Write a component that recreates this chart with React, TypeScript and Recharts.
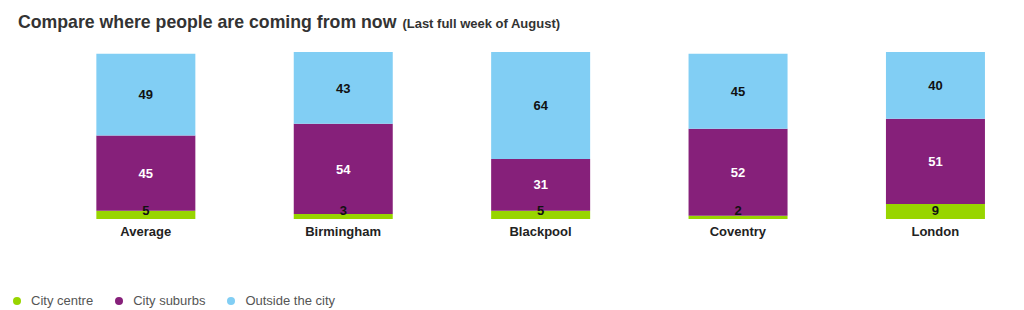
import { BarChart, Bar, XAxis, YAxis, LabelList } from 'recharts'

const cities = ['Average', 'Birmingham', 'Blackpool', 'Coventry', 'London']
const cityCentre = [5, 3, 5, 2, 9]
const citySuburbs = [45, 54, 31, 52, 51]
const outsideCity = [49, 43, 64, 45, 40]

const series = [
  { key: 'centre', name: 'City centre', color: '#98d500', values: cityCentre },
  { key: 'suburbs', name: 'City suburbs', color: '#86207a', values: citySuburbs },
  { key: 'outside', name: 'Outside the city', color: '#81cef4', values: outsideCity },
]

const data = cities.map((city, i) => ({
  city,
  centre: cityCentre[i],
  suburbs: citySuburbs[i],
  outside: outsideCity[i],
}))

const font = 'Arial, "Liberation Sans", Helvetica, sans-serif'

// small green segments: keep the number sitting just above the bottom
function CentreLabel(props: any) {
  const { x, y, width, height, value } = props
  const cy = Math.min(y + height / 2, y + height - 8.5)
  return (
    <text x={x + width / 2} y={cy} dy="0.35em" textAnchor="middle" fontSize={13} fontWeight="bold" fill="#111" fontFamily={font}>
      {value}
    </text>
  )
}

function LegendItems() {
  return (
    <div style={{ position: 'absolute', left: 5, top: 285, display: 'flex', fontFamily: font, fontSize: 13, color: '#555' }}>
      {series.map((s) => (
        <div key={s.key} style={{ display: 'flex', alignItems: 'center', marginRight: 22 }}>
          <span style={{ width: 8, height: 8, borderRadius: 4, background: s.color, display: 'inline-block', marginRight: 10 }} />
          {s.name}
        </div>
      ))}
    </div>
  )
}

export default function App() {
  return (
    <div style={{ position: 'relative', width: 1016, height: 302, overflow: 'hidden' }}>
      <div style={{ position: 'absolute', left: 10, top: 4, fontFamily: font, color: '#333', whiteSpace: 'nowrap' }}>
        <span style={{ fontSize: 17.7, fontWeight: 'bold' }}>Compare where people are coming from now</span>
        <span style={{ fontSize: 13, fontWeight: 'bold', marginLeft: 6 }}>(Last full week of August)</span>
      </div>
      <BarChart
        width={1026}
        height={302}
        data={data}
        margin={{ top: 44, right: 0, bottom: 61, left: 39 }}
        barCategoryGap="25%"
      >
        <XAxis
          dataKey="city"
          axisLine={false}
          tickLine={false}
          interval={0}
          tick={{ fontSize: 13, fontWeight: 'bold', fill: '#222', fontFamily: font }}
        />
        <YAxis hide domain={[0, 100]} />
        <Bar dataKey="centre" name="City centre" stackId="a" fill="#98d500" isAnimationActive={false}>
          <LabelList dataKey="centre" content={<CentreLabel />} />
        </Bar>
        <Bar dataKey="suburbs" name="City suburbs" stackId="a" fill="#86207a" isAnimationActive={false}>
          <LabelList dataKey="suburbs" position="center" fill="#fff" fontSize={13} fontWeight="bold" fontFamily={font} />
        </Bar>
        <Bar dataKey="outside" name="Outside the city" stackId="a" fill="#81cef4" isAnimationActive={false}>
          <LabelList dataKey="outside" position="center" fill="#111" fontSize={13} fontWeight="bold" fontFamily={font} />
        </Bar>
      </BarChart>
      <LegendItems />
    </div>
  )
}
